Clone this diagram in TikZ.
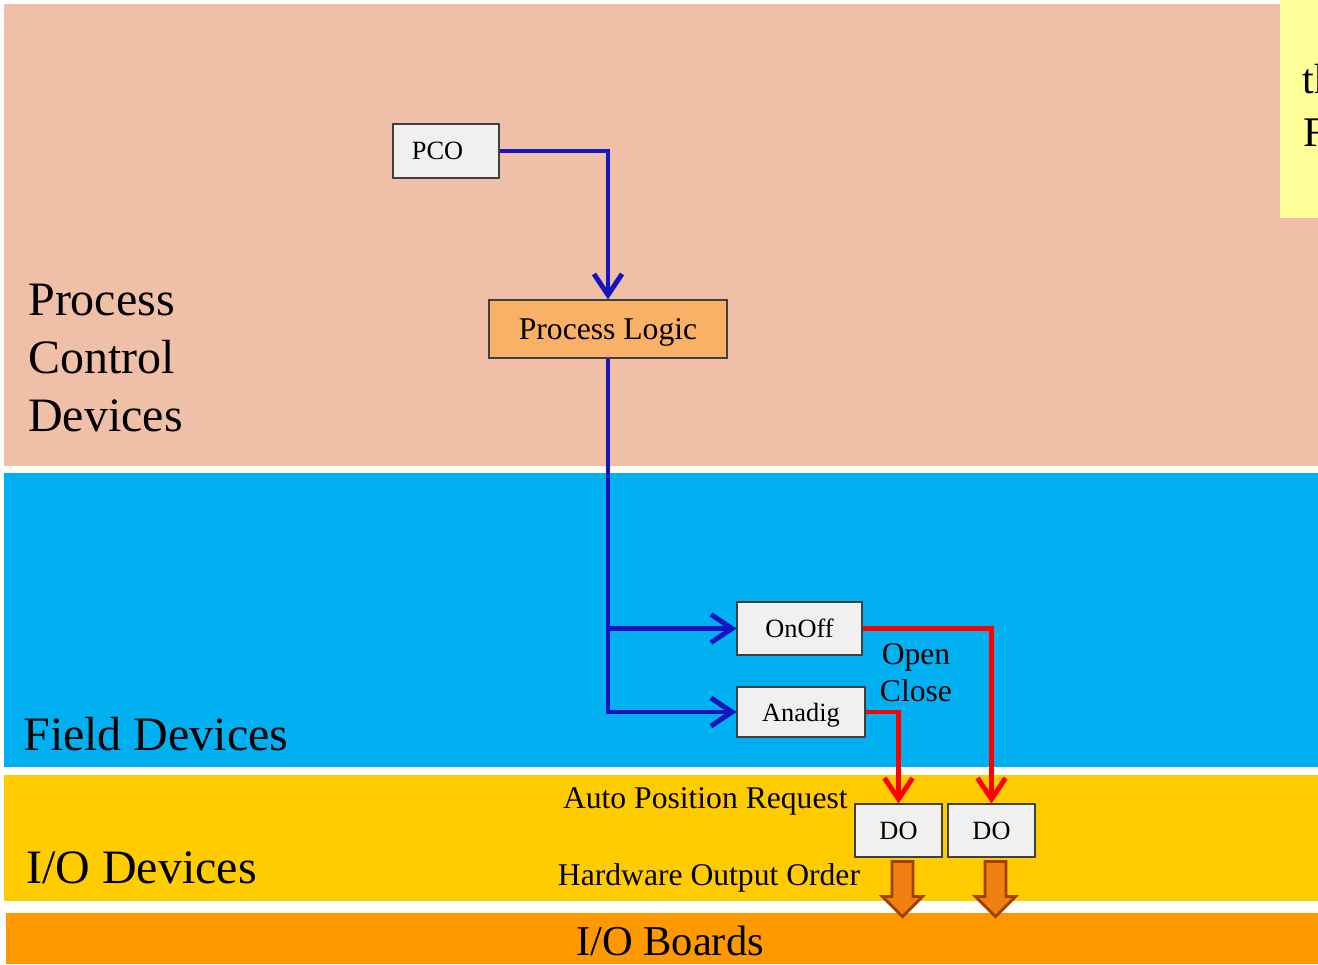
\documentclass[tikz,border=0pt]{standalone}
\usepackage{fontspec}
\setmainfont{Liberation Serif}
\usetikzlibrary{arrows.meta}

\definecolor{pcdband}{HTML}{EFC0A7}
\definecolor{fieldband}{HTML}{00B0F0}
\definecolor{ioband}{HTML}{FFCC00}
\definecolor{boardband}{HTML}{FF9900}
\definecolor{noteyellow}{HTML}{FFFF99}
\definecolor{boxgray}{HTML}{F0F0F0}
\definecolor{logicorange}{HTML}{F9B168}
\definecolor{flowblue}{HTML}{1414C0}
\definecolor{hwfill}{HTML}{F08010}
\definecolor{hwline}{HTML}{A04000}

\begin{document}
\begin{tikzpicture}[x=0.02cm, y=-0.02cm,
		block/.style={draw=black!75, line width=0.6pt, fill=boxgray, inner sep=0pt, text depth=0pt, font=\fontsize{15}{18}\selectfont},
		layer/.style={font=\fontsize{27.3}{33}\selectfont, inner sep=0pt},
		lbl/.style={font=\fontsize{18}{21}\selectfont, inner sep=0pt},
		flow/.style={draw=flowblue, line width=2.8pt, -{Straight Barb[length=12pt, width=16pt]}},
		order/.style={draw=red, line width=2.8pt, -{Straight Barb[length=12pt, width=16pt]}},
		hwarrow/.style={fill=hwfill, draw=hwline, line width=1.6pt}]
		\clip (0, 0) rectangle (1318, 964);
		\fill[white] (0, 0) rectangle (1318, 964);

		% layers
		\fill[pcdband] (4, 4) rectangle (1318, 466);
		\fill[fieldband] (4, 473) rectangle (1318, 767);
		\fill[ioband] (4, 775) rectangle (1318, 901);
		\fill[boardband] (6, 913) rectangle (1318, 964);

		\node[layer, anchor=north west, align=left] (pcdlabel) at (28, 284) {Process\\Control\\Devices};
		\node[layer, anchor=base west] (fieldlabel) at (23, 750) {Field Devices};
		\node[layer, anchor=base west] (iolabel) at (26, 883) {I/O Devices};
		\node[layer, font=\fontsize{24.2}{29}\selectfont, anchor=base] (boardlabel) at (670, 955) {I/O Boards};

		% note on the right
		\fill[noteyellow] (1280, 0) rectangle (1318, 218);
		\node[font=\fontsize{24}{29}\selectfont, anchor=base west, inner sep=0pt] (notea) at (1302, 93) {th};
		\node[font=\fontsize{24}{29}\selectfont, anchor=base west, inner sep=0pt] (noteb) at (1303, 146) {F};

		% objects
		\node[block, minimum width=106*0.02cm, minimum height=54*0.02cm] (pco) at (446, 151) {PCO\hspace*{0.34cm}};
		\node[block, fill=logicorange, minimum width=238*0.02cm, minimum height=58*0.02cm, font=\fontsize{18}{21}\selectfont] (logic) at (608, 329) {Process Logic};
		\node[block, minimum width=125*0.02cm, minimum height=53*0.02cm] (onoff) at (799.5, 628.5) {OnOff};
		\node[block, minimum width=128*0.02cm, minimum height=50*0.02cm] (anadig) at (801, 712) {Anadig};
		\node[block, minimum width=87*0.02cm, minimum height=53*0.02cm] (do1) at (898.5, 830.5) {DO};
		\node[block, minimum width=87*0.02cm, minimum height=53*0.02cm] (do2) at (991.5, 830.5) {DO};

		\draw[flow] (pco.east) -| (logic.north);
		\draw[flow] (logic.south) |- (anadig.west);
		\draw[flow] (logic.south |- onoff.west) -- (onoff.west);

		\draw[order] (onoff.east) -| (do2.north);
		\draw[order] (anadig.east) -| (do1.north);

		\node[lbl, align=center] (openclose) at (916, 673) {Open\\Close};
		\node[lbl, anchor=east] (autopos) at (848, 801) {Auto Position Request};
		\node[lbl] (hworder) at (709, 878) {Hardware Output Order};

		% hardware outputs
		\draw[hwarrow, shift={(do1.south)}] (-6.5, 4) -- (14.5, 4) -- (14.5, 39) -- (24, 39) -- (4, 59) -- (-16, 39) -- (-6.5, 39) -- cycle;
		\draw[hwarrow, shift={(do2.south)}] (-6.5, 4) -- (14.5, 4) -- (14.5, 39) -- (24, 39) -- (4, 59) -- (-16, 39) -- (-6.5, 39) -- cycle;
	\end{tikzpicture}
\end{document}
